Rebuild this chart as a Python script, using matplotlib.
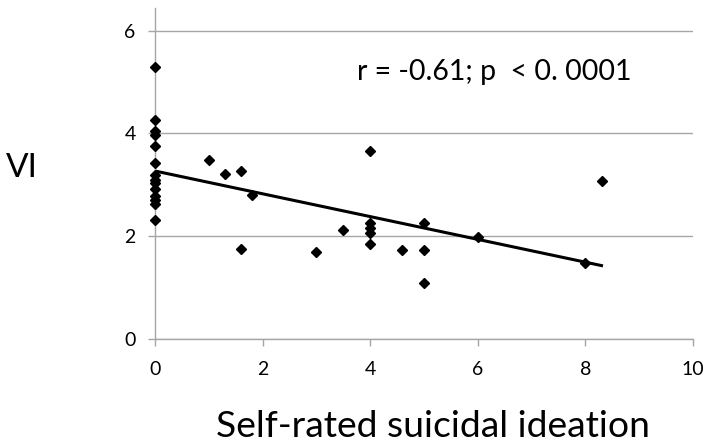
import numpy as np
import matplotlib
matplotlib.use("Agg")
import matplotlib.pyplot as plt

plt.rcParams["font.family"] = ["Lato", "DejaVu Sans"]

# self-rated suicidal ideation vs VI
ideation = [0, 0, 0, 0, 0, 0, 0, 0, 0, 0, 0, 0, 0, 0,
            1.0, 1.3, 1.6, 1.6, 1.8, 3.0, 3.5,
            4.0, 4.0, 4.0, 4.0, 4.0, 4.6,
            5.0, 5.0, 5.0, 6.0, 8.0, 8.3]
vi = [5.30, 4.25, 4.05, 3.97, 3.75, 3.43, 3.18, 3.10, 3.04, 2.92, 2.77, 2.70, 2.63, 2.32,
      3.48, 3.20, 3.27, 1.74, 2.79, 1.69, 2.12,
      3.66, 2.26, 2.15, 2.05, 1.84, 1.73,
      2.26, 1.73, 1.08, 1.98, 1.48, 3.07]
x_ticks = [0, 2, 4, 6, 8, 10]
y_ticks = [0, 2, 4, 6]
stats_label = "r = -0.61; p  < 0. 0001"

x = np.array(ideation)
y = np.array(vi)
slope, intercept = np.polyfit(x, y, 1)

fig = plt.figure(figsize=(7.1, 4.43), dpi=100)
ax = fig.add_axes([0.2183, 0.2354, 0.7577, 0.7476])

grid_col = "#a6a6a6"
ax.set_xlim(0, 10)
ax.set_ylim(0, 6.45)
ax.set_xticks(x_ticks)
ax.set_yticks(y_ticks)
ax.yaxis.grid(True, color=grid_col, linewidth=1.0)
ax.set_axisbelow(True)
for s in ["top", "right"]:
    ax.spines[s].set_visible(False)
for s in ["left", "bottom"]:
    ax.spines[s].set_color(grid_col)
    ax.spines[s].set_linewidth(1.0)
ax.tick_params(axis="both", color=grid_col, width=1.0, length=5, labelsize=14)
ax.tick_params(axis="x", pad=11)
ax.tick_params(axis="y", pad=9)

# linear trend line through the points
xs = np.array([0, x.max()])
ax.plot(xs, intercept + slope * xs, color="black", linewidth=2.2, zorder=2)
ax.plot(x, y, linestyle="none", marker="D", markersize=5.2,
        color="black", zorder=3, clip_on=False)

ax.text(3.75, 5.04, stats_label, fontsize=20.5, va="baseline", ha="left")
fig.text(21.5 / 710, 1 - 177 / 443, "VI", fontsize=24, ha="center", va="baseline")
fig.text(433 / 710, 1 - 437 / 443, "Self-rated suicidal ideation", fontsize=26.8,
         ha="center", va="baseline")

fig.savefig("out.png", dpi=100)
plt.close(fig)
